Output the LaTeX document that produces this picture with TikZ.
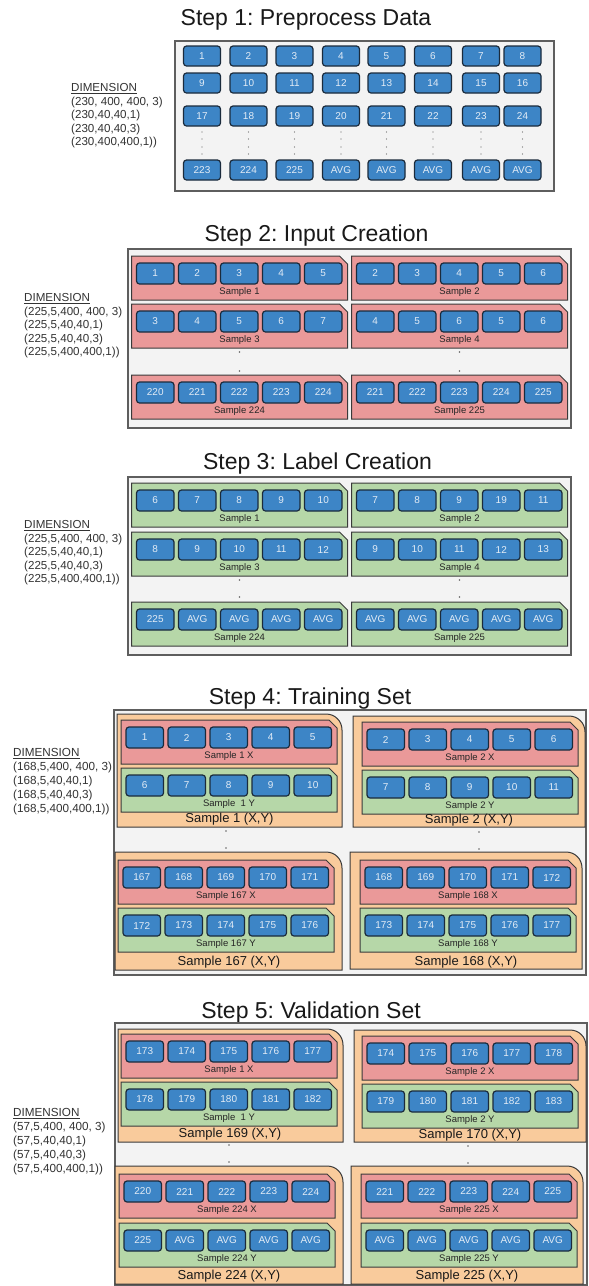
\documentclass[tikz,border=0pt]{standalone}
\usepackage{fontspec}
\setmainfont{Liberation Sans}
\frenchspacing
\definecolor{bluefill}{HTML}{3D85C6}
\definecolor{blueedge}{HTML}{1B2B3C}
\definecolor{pinkfill}{HTML}{EA9999}
\definecolor{greenfill}{HTML}{B6D7A8}
\definecolor{orangefill}{HTML}{F9CB9C}
\definecolor{framefill}{HTML}{F3F3F3}
\definecolor{frameedge}{HTML}{5E5E5E}
\definecolor{boxedge}{HTML}{3A3A3A}
\definecolor{btext}{HTML}{E3ECF6}
\tikzset{
 blu/.style={draw=blueedge, fill=bluefill, line width=1.2pt, rounded corners=3pt, minimum width=37.5pt, minimum height=21pt, inner sep=0pt, text=btext, font=\fontsize{10}{12}\selectfont},
 blu1/.style={blu, minimum width=37pt, minimum height=20pt},
 slab/.style={inner sep=0pt, text=black!85, font=\fontsize{9.5}{11}\selectfont},
 olab/.style={inner sep=0pt, text=black!90, font=\fontsize{13}{15}\selectfont},
 ttl/.style={inner sep=0pt, anchor=base, font=\fontsize{23}{27}\selectfont, text=black!90},
 dimA/.style={inner sep=0pt, anchor=west, align=left, text=black!80, font=\fontsize{11.6}{13.5}\selectfont},
 dimB/.style={dimA, font=\fontsize{11.7}{14}\selectfont},
 frm/.style={draw=frameedge, fill=framefill, line width=1.5pt},
 dotc/.style={fill=black!60},
}
\newcommand{\sampbox}[6]{%
  \filldraw[draw=boxedge, line width=1pt, fill=#4] (#2,#3) -- ++(208,0) -- ++(8,8) -- ++(0,36) -- ++(-216,0) -- cycle;
  \foreach \v [count=\i] in {#6} {\node[blu] (#1-\i) at ({#2+23.75+42*(\i-1)},{#3+17.5}) {\v};}
  \node[slab] (#1-lab) at ({#2+108},{#3+36}) {#5};
}
\newcommand{\pairbox}[4]{%
  \filldraw[draw=boxedge, line width=1pt, fill=orangefill] (#1,#4) -- (#1,#2) -- ({#3-16},#2) .. controls ({#3-7},#2) and (#3,{#2+7}) .. (#3,{#2+16}) -- (#3,#4) -- cycle;
}
\newcommand{\rowA}[3]{\foreach \v [count=\c] in {#3} {\pgfmathsetmacro\xx{\colx[\c-1]}\node[blu1] (#1-\c) at (\xx,#2) {\v};}}
\newcommand{\twodots}[3]{\fill[dotc] (#1,#2) circle (0.8pt); \fill[dotc] (#1,#3) circle (0.8pt);}
\begin{document}
\begin{tikzpicture}[x=1pt,y=-1pt]
\useasboundingbox[fill=white] (0,0) rectangle (589,1286);
\def\colx{{202,248.5,294.5,341,386.5,433,481,522.5}}
% ---------------- Step 1
\node[ttl] (t1) at (306,25) {Step 1: Preprocess Data};
\draw[frm] (175,41) rectangle (554,191);
\node[dimA] (d1) at (71,116) {\underline{DIMENSION}\\(230, 400, 400, 3)\\(230,40,40,1)\\(230,40,40,3)\\(230,400,400,1))};
\rowA{ra}{56}{1,...,8}
\rowA{rb}{83}{9,...,16}
\rowA{rc}{116}{17,...,24}
\rowA{rd}{170}{223,224,225,AVG,AVG,AVG,AVG,AVG}
\foreach \c in {0,...,7} {\pgfmathsetmacro\xx{\colx[\c]}\foreach \yy in {132,139,147,154} {\fill[dotc] (\xx,\yy) circle (0.6pt);}}
% ---------------- Step 2
\node[ttl] (t2) at (316.5,241) {Step 2: Input Creation};
\draw[frm] (128,249) rectangle (571,428);
\node[dimA] (d2) at (24,326) {\underline{DIMENSION}\\(225,5,400, 400, 3)\\(225,5,40,40,1)\\(225,5,40,40,3)\\(225,5,400,400,1))};
\sampbox{a1}{131.5}{256}{pinkfill}{Sample 1}{1,2,3,4,5}
\sampbox{a2}{351.5}{256}{pinkfill}{Sample 2}{2,3,4,5,6}
\sampbox{a3}{131.5}{304}{pinkfill}{Sample 3}{3,4,5,6,7}
\sampbox{a4}{351.5}{304}{pinkfill}{Sample 4}{4,5,6,5,6}
\sampbox{a5}{131.5}{375}{pinkfill}{Sample 224}{220,221,222,223,224}
\sampbox{a6}{351.5}{375}{pinkfill}{Sample 225}{221,222,223,224,225}
\twodots{239.5}{352}{371}
\twodots{459.5}{352}{371}
% ---------------- Step 3
\node[ttl] (t3) at (317.5,469) {Step 3: Label Creation};
\draw[frm] (128,477) rectangle (571,655);
\node[dimA] (d3) at (24,553) {\underline{DIMENSION}\\(225,5,400, 400, 3)\\(225,5,40,40,1)\\(225,5,40,40,3)\\(225,5,400,400,1))};
\sampbox{b1}{131.5}{483}{greenfill}{Sample 1}{6,7,8,9,10}
\sampbox{b2}{351.5}{483}{greenfill}{Sample 2}{7,8,9,19,11}
\sampbox{b3}{131.5}{532}{greenfill}{Sample 3}{8,9,10,11,12}
\sampbox{b4}{351.5}{532}{greenfill}{Sample 4}{9,10,11,12,13}
\sampbox{b5}{131.5}{602}{greenfill}{Sample 224}{225,AVG,AVG,AVG,AVG}
\sampbox{b6}{351.5}{602}{greenfill}{Sample 225}{AVG,AVG,AVG,AVG,AVG}
\twodots{239.5}{580}{597}
\twodots{459.5}{580}{597}
% ---------------- Step 4
\node[ttl] (t4) at (310,704) {Step 4: Training Set};
\draw[frm] (114,710) rectangle (586,975);
\node[dimB] (d4) at (13,782) {\underline{DIMENSION}\\(168,5,400, 400, 3)\\(168,5,40,40,1)\\(168,5,40,40,3)\\(168,5,400,400,1))};
\pairbox{117}{714}{342}{827}
\sampbox{c1x}{121}{720}{pinkfill}{Sample 1 X}{1,2,3,4,5}
\sampbox{c1y}{121}{768}{greenfill}{Sample~ 1 Y}{6,7,8,9,10}
\node[olab] (c1) at (229.5,819) {Sample 1 (X,Y)};
\pairbox{353}{716}{585}{827}
\sampbox{c2x}{362}{722}{pinkfill}{Sample 2 X}{2,3,4,5,6}
\sampbox{c2y}{362}{770}{greenfill}{Sample 2 Y}{7,8,9,10,11}
\node[olab] (c2) at (469,820) {Sample 2 (X,Y)};
\pairbox{115}{852}{342}{970}
\sampbox{c3x}{118}{860}{pinkfill}{Sample 167 X}{167,168,169,170,171}
\sampbox{c3y}{118}{908}{greenfill}{Sample 167 Y}{172,173,174,175,176}
\node[olab] (c3) at (229,962) {Sample 167 (X,Y)};
\pairbox{350}{852}{582}{969}
\sampbox{c4x}{360}{860}{pinkfill}{Sample 168 X}{168,169,170,171,172}
\sampbox{c4y}{360}{908}{greenfill}{Sample 168 Y}{173,174,175,176,177}
\node[olab] (c4) at (466,962) {Sample 168 (X,Y)};
\twodots{226}{831}{848}
\twodots{479}{832}{849}
% ---------------- Step 5
\node[ttl] (t5) at (311,1018) {Step 5: Validation Set};
\draw[frm] (115,1023) rectangle (587,1285);
\node[dimB] (d5) at (13,1142) {\underline{DIMENSION}\\(57,5,400, 400, 3)\\(57,5,40,40,1)\\(57,5,40,40,3)\\(57,5,400,400,1))};
\pairbox{118}{1029}{343}{1142}
\sampbox{e1x}{121}{1034}{pinkfill}{Sample 1 X}{173,174,175,176,177}
\sampbox{e1y}{121}{1082}{greenfill}{Sample~ 1 Y}{178,179,180,181,182}
\node[olab] (e1) at (230,1134) {Sample 169 (X,Y)};
\pairbox{354}{1030}{586}{1142}
\sampbox{e2x}{362}{1036}{pinkfill}{Sample 2 X}{174,175,176,177,178}
\sampbox{e2y}{362}{1084}{greenfill}{Sample 2 Y}{179,180,181,182,183}
\node[olab] (e2) at (470,1135) {Sample 170 (X,Y)};
\pairbox{115}{1166}{343}{1284}
\sampbox{e3x}{119}{1174}{pinkfill}{Sample 224 X}{220,221,222,223,224}
\sampbox{e3y}{119}{1223}{greenfill}{Sample 224 Y}{225,AVG,AVG,AVG,AVG}
\node[olab] (e3) at (229,1276) {Sample 224 (X,Y)};
\pairbox{351}{1166}{583}{1284}
\sampbox{e4x}{361}{1174}{pinkfill}{Sample 225 X}{221,222,223,224,225}
\sampbox{e4y}{361}{1223}{greenfill}{Sample 225 Y}{AVG,AVG,AVG,AVG,AVG}
\node[olab] (e4) at (467,1276) {Sample 225 (X,Y)};
\twodots{229}{1145}{1162}
\twodots{468}{1146}{1163}
\end{tikzpicture}
\end{document}
